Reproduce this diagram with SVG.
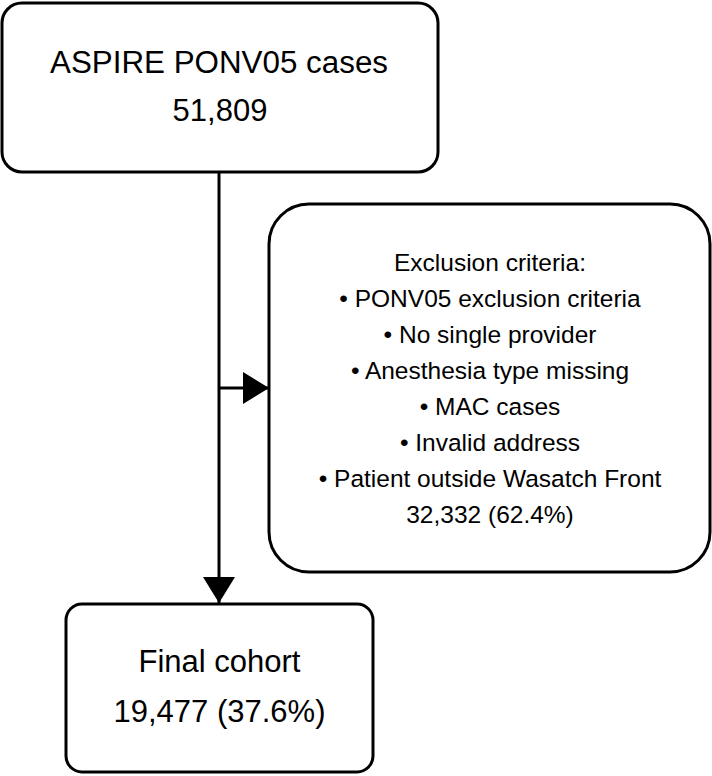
<svg xmlns="http://www.w3.org/2000/svg" width="712" height="776" viewBox="0 0 712 776">
<defs>
<style>
.box{fill:#fff;stroke:#000;stroke-width:3}
.t{font-family:"Liberation Sans",Arial,Helvetica,sans-serif;fill:#000;text-anchor:middle}
.big{font-size:31px}
.sm{font-size:24.5px}
.ln{stroke:#000;stroke-width:3;fill:none}
</style>
<marker id="ah" viewBox="0 0 26 32" refX="26" refY="16" markerWidth="26" markerHeight="32" markerUnits="userSpaceOnUse" orient="auto">
<path d="M0,0 L26,16 L0,32 Z" fill="#000"/>
</marker>
</defs>
<rect width="712" height="776" fill="#fff"/>
<g id="connectors">
<line class="ln" x1="219" y1="172" x2="219" y2="603" marker-end="url(#ah)"/>
<line class="ln" x1="219" y1="388" x2="269" y2="388" marker-end="url(#ah)"/>
</g>
<g id="node-aspire">
<rect class="box" x="2" y="3" width="436" height="169" rx="20"/>
<text class="t big" x="219" y="73" textLength="338" lengthAdjust="spacingAndGlyphs">ASPIRE PONV05 cases</text>
<text class="t big" x="220" y="121">51,809</text>
</g>
<g id="node-exclusion">
<rect class="box" x="269" y="204" width="441" height="368" rx="40"/>
<text class="t sm" x="490" y="271">Exclusion criteria:</text>
<text class="t sm" x="490" y="307">• PONV05 exclusion criteria</text>
<text class="t sm" x="490" y="343">• No single provider</text>
<text class="t sm" x="490" y="379">• Anesthesia type missing</text>
<text class="t sm" x="490" y="415">• MAC cases</text>
<text class="t sm" x="490" y="451">• Invalid address</text>
<text class="t sm" x="490" y="487">• Patient outside Wasatch Front</text>
<text class="t sm" x="490" y="523">32,332 (62.4%)</text>
</g>
<g id="node-final">
<rect class="box" x="66" y="604" width="307" height="168" rx="16"/>
<text class="t big" x="219.5" y="672">Final cohort</text>
<text class="t big" x="219.5" y="722">19,477 (37.6%)</text>
</g>
</svg>
